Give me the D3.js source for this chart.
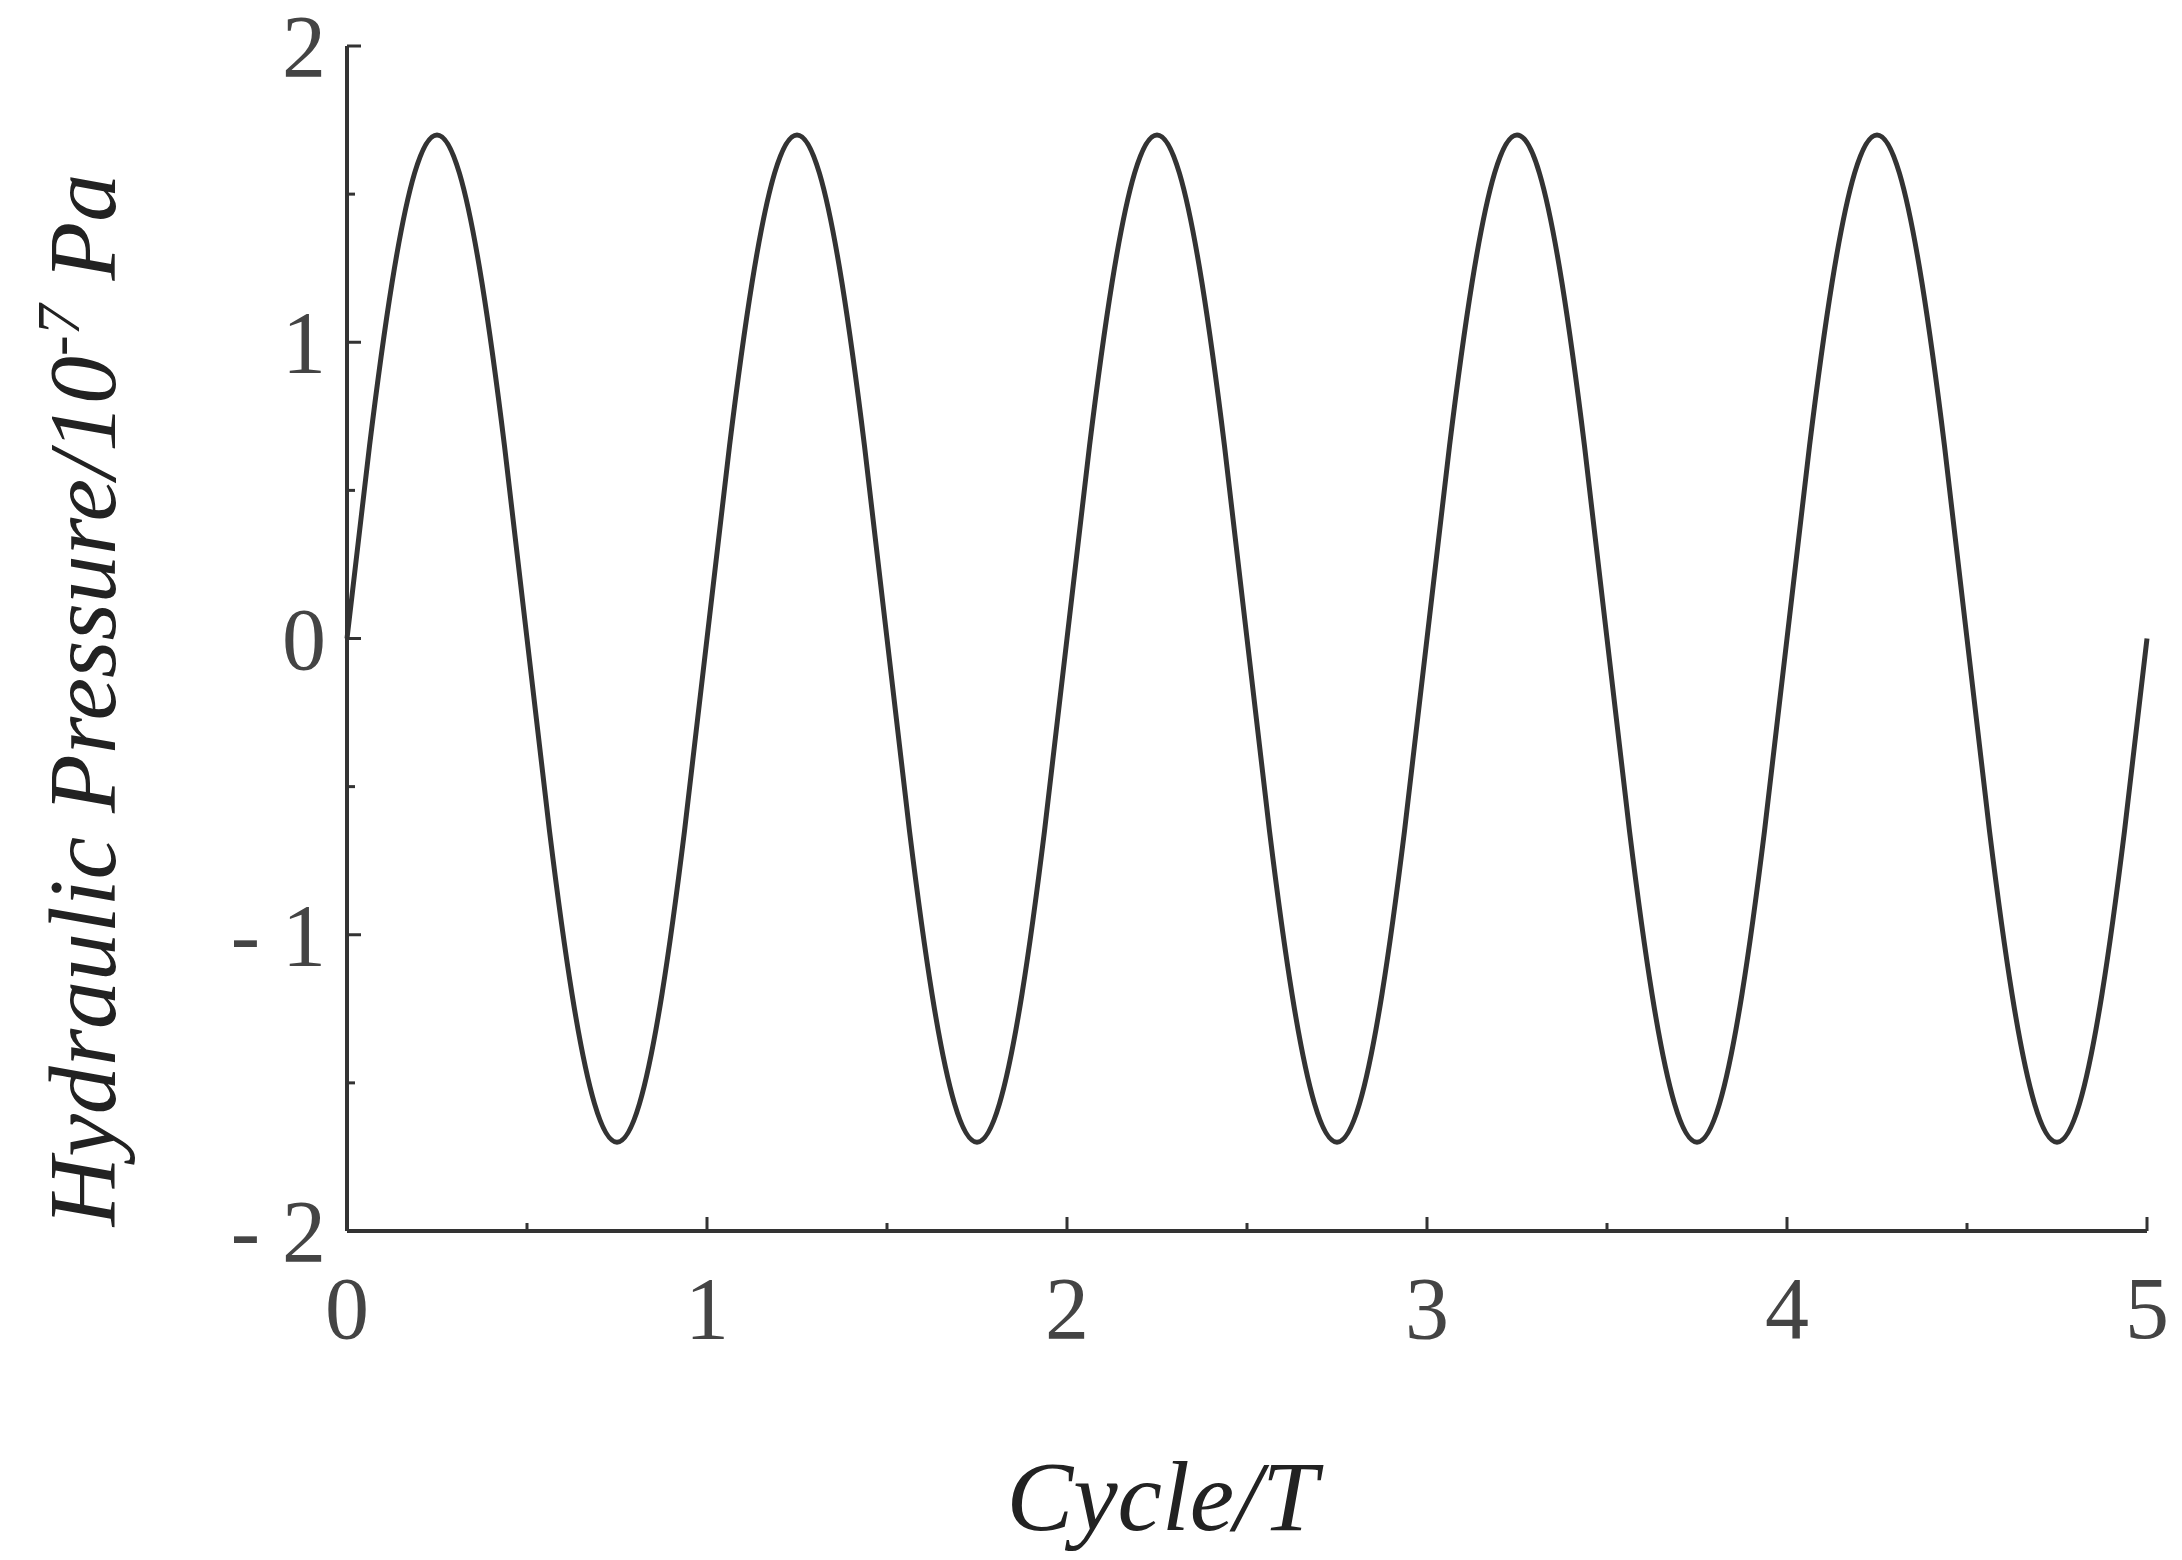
<!DOCTYPE html><html><head><meta charset="utf-8"><script src="https://cdn.jsdelivr.net/npm/d3@7"></script>
<style>body{margin:0;background:#fff}</style></head><body><svg id="c" width="2182" height="1560"></svg>
<script>
const xStep = 0.0625;
const pressure = [
0,0.65,1.2,1.57,1.7,1.57,1.2,0.65,0,-0.65,-1.2,-1.57,-1.7,-1.57,-1.2,-0.65,
0,0.65,1.2,1.57,1.7,1.57,1.2,0.65,0,-0.65,-1.2,-1.57,-1.7,-1.57,-1.2,-0.65,
0,0.65,1.2,1.57,1.7,1.57,1.2,0.65,0,-0.65,-1.2,-1.57,-1.7,-1.57,-1.2,-0.65,
0,0.65,1.2,1.57,1.7,1.57,1.2,0.65,0,-0.65,-1.2,-1.57,-1.7,-1.57,-1.2,-0.65,
0,0.65,1.2,1.57,1.7,1.57,1.2,0.65,0,-0.65,-1.2,-1.57,-1.7,-1.57,-1.2,-0.65,
0];
const xTicks = [0,1,2,3,4,5];
const yTicks = [-2,-1,0,1,2];
const yTickLabels = ["- 2","- 1","0","1","2"];
const xMinor = [0.5,1.5,2.5,3.5,4.5];
const yMinor = [-1.5,-0.5,0.5,1.5];

const svg = d3.select("#c");
const x = d3.scaleLinear().domain([0,5]).range([347,2147]);
const y = d3.scaleLinear().domain([-2,2]).range([1231,46]);
const font = "'Liberation Serif','DejaVu Serif',serif";
const col = "#333";

svg.append("line").attr("x1",x(0)).attr("x2",x(5)).attr("y1",y(-2)).attr("y2",y(-2)).attr("stroke",col).attr("stroke-width",4);
svg.append("line").attr("x1",x(0)).attr("x2",x(0)).attr("y1",y(-2)).attr("y2",y(2)).attr("stroke",col).attr("stroke-width",4);
xTicks.forEach(t=>svg.append("line").attr("x1",x(t)).attr("x2",x(t)).attr("y1",y(-2)).attr("y2",y(-2)-14).attr("stroke",col).attr("stroke-width",3));
xMinor.forEach(t=>svg.append("line").attr("x1",x(t)).attr("x2",x(t)).attr("y1",y(-2)).attr("y2",y(-2)-8).attr("stroke",col).attr("stroke-width",3));
yTicks.forEach(t=>svg.append("line").attr("x1",x(0)).attr("x2",x(0)+14).attr("y1",y(t)).attr("y2",y(t)).attr("stroke",col).attr("stroke-width",3));
yMinor.forEach(t=>svg.append("line").attr("x1",x(0)).attr("x2",x(0)+8).attr("y1",y(t)).attr("y2",y(t)).attr("stroke",col).attr("stroke-width",3));

xTicks.forEach(t=>svg.append("text").attr("x",x(t)).attr("y",1338).attr("text-anchor","middle")
  .attr("font-family",font).attr("font-size",88).attr("fill","#444").text(t));
yTicks.forEach((t,i)=>svg.append("text").attr("x",326).attr("y",y(t)+30).attr("text-anchor","end")
  .attr("font-family",font).attr("font-size",88).attr("fill","#444").text(yTickLabels[i]));

svg.append("path").datum(pressure)
  .attr("d",d3.line().x((d,i)=>x(i*xStep)).y(d=>y(d)).curve(d3.curveNatural))
  .attr("fill","none").attr("stroke",col).attr("stroke-width",5);

svg.append("text").attr("x",1162).attr("y",1530).attr("text-anchor","middle").attr("font-family",font)
  .attr("font-style","italic").attr("font-size",100).attr("fill","#222").text("Cycle/T");
const yt = svg.append("text").attr("transform","translate(115,700) rotate(-90)").attr("text-anchor","middle")
  .attr("font-family",font).attr("font-style","italic").attr("font-size",96).attr("fill","#222");
yt.append("tspan").text("Hydraulic Pressure/10");
yt.append("tspan").attr("dy",-36).attr("font-size",62).text("-7");
yt.append("tspan").attr("dy",36).text(" Pa");
</script></body></html>
